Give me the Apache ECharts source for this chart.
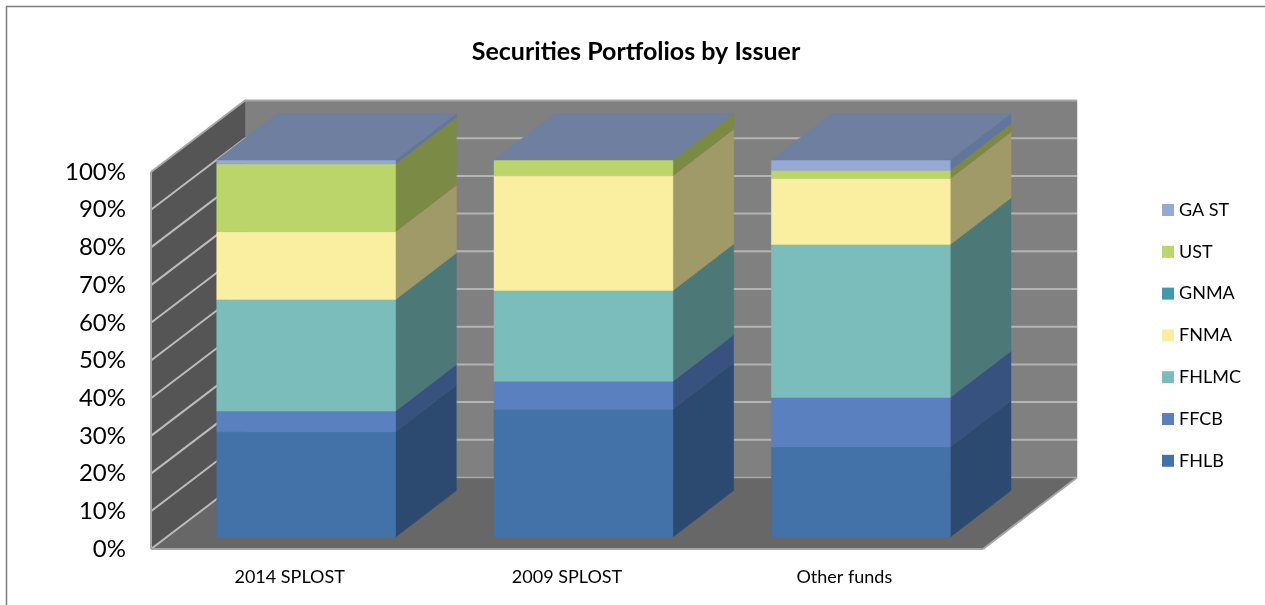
<!DOCTYPE html>
<html lang="en">
<head>
<meta charset="UTF-8">
<title>Securities Portfolios by Issuer</title>
<script src="https://cdn.jsdelivr.net/npm/echarts@6/dist/echarts.min.js"></script>
<style>
    html, body { margin: 0; padding: 0; background: #fff; }
    #main { width: 1265px; height: 605px; }
</style>
</head>
<body>
<div id="main"></div>
<script type="text/javascript">
var categories = ['2014 SPLOST', '2009 SPLOST', 'Other funds'];
var tickValues = [0, 10, 20, 30, 40, 50, 60, 70, 80, 90, 100];

// share of each portfolio, percent
var FHLB = [27.9, 33.9, 23.9];
var FFCB = [5.5, 7.4, 13.1];
var FHLMC = [29.6, 24.1, 40.6];
var FNMA = [18.0, 30.4, 17.5];
var GNMA = [0, 0, 0];
var UST = [18.0, 4.2, 2.2];
var GA_ST = [1.0, 0, 2.7];

var issuers = ['FHLB', 'FFCB', 'FHLMC', 'FNMA', 'GNMA', 'UST', 'GA ST'];
var issuerValues = [FHLB, FFCB, FHLMC, FNMA, GNMA, UST, GA_ST];
var frontColors = ['#4372a8', '#5a80c0', '#7abdbb', '#faeea0', '#4198b0', '#bcd56a', '#94a9d4'];
var sideColors = ['#2c4a70', '#38527f', '#4c7877', '#a09a68', '#2b6373', '#7b8a45', '#62769b'];
var topColor = '#6e7fa0';

// 3d look, in pixels
var wallDx = 94, wallDy = -71.5;   // front of the floor to the back wall
var barInX = 16.5, barInY = -12;   // bar front inside the floor
var barDx = 60.7, barDy = -46.5;   // depth of a bar
var barShare = 0.645;

function poly(points, fill, stroke) {
    return {
        type: 'polygon',
        shape: { points: points },
        style: { fill: fill, stroke: stroke || fill, lineWidth: stroke ? 2 : 0.5 }
    };
}

function line(a, b, color, width) {
    return {
        type: 'line',
        shape: { x1: a[0], y1: a[1], x2: b[0], y2: b[1] },
        style: { stroke: color, lineWidth: width }
    };
}

function renderWalls(params, api) {
    var c = params.coordSys;
    var left = c.x, right = c.x + c.width;
    var bottom = api.coord([0, 0])[1], top = api.coord([0, 100])[1];
    var kids = [
        poly([[left + wallDx, top + wallDy], [right + wallDx, top + wallDy], [right + wallDx, bottom + wallDy], [left + wallDx, bottom + wallDy]], '#808080'),
        poly([[left, top], [left + wallDx, top + wallDy], [left + wallDx, bottom + wallDy], [left, bottom]], '#555555'),
        poly([[left, bottom], [left + wallDx, bottom + wallDy], [right + wallDx, bottom + wallDy], [right, bottom]], '#676767')
    ];
    tickValues.forEach(function (v) {
        var y = api.coord([0, v])[1];
        if (v > 0 && v < 100) {
            kids.push(line([left, y], [left + wallDx, y + wallDy], '#bcbcbc', 2));
            kids.push(line([left + wallDx, y + wallDy], [right + wallDx, y + wallDy], '#b4b4b4', 2));
        }
    });
    var bottomY = api.coord([0, 0])[1];
    kids.push(line([left, bottomY], [left + wallDx, bottomY + wallDy], '#bcbcbc', 2));
    kids.push(line([left + wallDx, bottomY + wallDy], [right + wallDx, bottomY + wallDy], '#a8a8a8', 1.5));
    kids.push(line([left, top], [left + wallDx, top + wallDy], '#a6a6a6', 2));
    kids.push(line([left + wallDx, top + wallDy], [right + wallDx, top + wallDy], '#a6a6a6', 2));
    kids.push(line([left, top], [left, bottom], '#a6a6a6', 2));
    kids.push(line([left, bottom], [right, bottom], '#a6a6a6', 2));
    kids.push(line([right, bottom], [right + wallDx, bottom + wallDy], '#a6a6a6', 2));
    return { type: 'group', children: kids };
}

function makeRenderBar(index) {
    return function (params, api) {
        var cat = api.value(0);
        var low = api.coord([cat, api.value(1)]);
        var high = api.coord([cat, api.value(2)]);
        var half = api.size([1, 0])[0] * barShare / 2;
        var x0 = low[0] - half + barInX, x1 = low[0] + half + barInX;
        var y0 = low[1] + barInY, y1 = high[1] + barInY;
        var kids = [];
        // the last issuer closes the box even when its share is zero
        if (y0 - y1 > 0) {
            kids.push(poly([[x1, y0], [x1 + barDx, y0 + barDy], [x1 + barDx, y1 + barDy], [x1, y1]], sideColors[index]));
            kids.push(poly([[x0, y0], [x1, y0], [x1, y1], [x0, y1]], frontColors[index]));
        }
        if (index === issuers.length - 1) {
            kids.push(poly([[x0, y1], [x1, y1], [x1 + barDx, y1 + barDy], [x0 + barDx, y1 + barDy]], topColor));
        }
        return { type: 'group', children: kids };
    };
}

var series = [{
    name: 'walls',
    type: 'custom',
    silent: true,
    z: 1,
    renderItem: renderWalls,
    data: [[0, 0]],
    encode: { x: 0, y: 1 }
}];

var running = categories.map(function () { return 0; });
issuers.forEach(function (name, i) {
    var rows = issuerValues[i].map(function (v, c) {
        var row = [c, running[c], running[c] + v];
        running[c] += v;
        return row;
    });
    series.push({
        name: name,
        type: 'custom',
        silent: true,
        z: 2 + i,
        renderItem: makeRenderBar(i),
        itemStyle: { color: frontColors[i] },
        data: rows,
        encode: { x: 0, y: [1, 2] }
    });
});

var myChart = echarts.init(document.getElementById('main'));
myChart.setOption({
    animation: false,
    backgroundColor: '#fff',
    textStyle: { fontFamily: 'Lato' },
    title: {
        text: 'Securities Portfolios by Issuer',
        left: 631,
        top: 34,
        textAlign: 'center',
        textStyle: { fontFamily: 'Lato', fontSize: 25, fontWeight: 'bold', color: '#000' }
    },
    legend: {
        orient: 'vertical',
        left: 1162,
        top: 201,
        padding: 0,
        itemWidth: 12,
        itemHeight: 12,
        itemGap: 23.8,
        icon: 'rect',
        selectedMode: false,
        data: issuers.slice().reverse(),
        textStyle: { fontFamily: 'Lato', fontSize: 18, color: '#000' }
    },
    grid: { left: 151, width: 832, top: 172, height: 377 },
    xAxis: {
        type: 'category',
        data: categories,
        axisLine: { show: false },
        axisTick: { show: false },
        axisLabel: { margin: 19, fontFamily: 'Lato', fontSize: 18, color: '#000' }
    },
    yAxis: {
        type: 'value',
        min: 0,
        max: 100,
        interval: 10,
        axisLine: { show: false },
        axisTick: { show: false },
        splitLine: { show: false },
        axisLabel: { margin: 25, formatter: '{value}%', fontFamily: 'Lato', fontSize: 24, color: '#000' }
    },
    graphic: [{
        type: 'polyline',
        silent: true,
        z: -1,
        shape: { points: [[6.5, 605], [6.5, 6.5], [1265, 6.5]] },
        style: { fill: 'none', stroke: '#7f7f7f', lineWidth: 1.5 }
    }],
    series: series
});
</script>
</body>
</html>
